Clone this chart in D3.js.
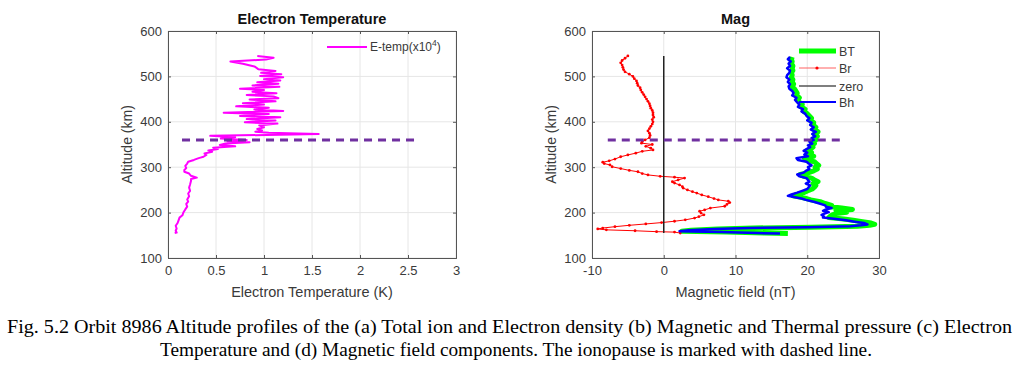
<!DOCTYPE html>
<html><head><meta charset="utf-8">
<script src="https://cdn.jsdelivr.net/npm/d3@7"></script>
<style>body{margin:0;background:#fff}svg{display:block}</style>
</head><body>
<svg id="c" width="1021" height="381"></svg>
<script>
// ---------- DATA ----------
const tempTicks = [0, 0.5, 1, 1.5, 2, 2.5, 3];
const altTicks = [100, 200, 300, 400, 500, 600];
const magTicks = [-10, 0, 10, 20, 30];
const ionopauseAlt = 360;
const ionoTempRange = [0.146, 2.59];
const ionoMagRange = [-7.8, 25];
const zeroAltRange = [155, 545];

const etempAlt = [545,541,537,533,528,522,516,512,508,505,501,498,494,491,487,484,480,477,473,470,466,463,459,456,452,449,445,441,438,434,431,427,424,420,417,413,410,406,403,399,396,392,388,384,381,378,376,373,369,366,363,360,357,355,352,349,346,343,340,337,334,330,327,323,320,316,312,308,303,298,294,290,286,281,277,274,270,262,255,248,242,236,229,224,219,213,207,200,194,189,183,177,171,165,160,156,155];
const etempVal = [0.93,1.10,1.02,0.65,0.78,0.90,0.94,1.12,0.97,1.18,0.96,1.20,1.00,1.17,0.93,1.15,0.88,1.16,0.75,1.00,0.88,1.13,0.82,1.10,1.15,0.85,1.12,0.78,1.00,0.71,1.05,0.90,1.20,0.58,1.05,0.75,1.17,0.82,1.12,0.80,1.14,0.95,1.00,0.93,0.98,0.91,1.05,1.57,0.44,0.70,0.55,0.82,0.62,0.85,0.60,0.54,0.70,0.47,0.52,0.42,0.46,0.38,0.40,0.37,0.32,0.27,0.21,0.20,0.18,0.19,0.17,0.17,0.22,0.24,0.30,0.24,0.24,0.23,0.22,0.23,0.21,0.22,0.20,0.21,0.19,0.20,0.18,0.16,0.15,0.12,0.11,0.10,0.08,0.09,0.08,0.09,0.07];

const brAlt = [545,540,535,530,525,520,515,510,505,500,495,490,485,480,475,470,465,460,455,450,445,440,435,430,425,420,415,410,405,400,395,390,385,380,375,370,365,360,356,353,350,346,342,338,335,331,327,323,318,314,311,308,305,301,297,293,290,286,283,280,278,276,272,268,265,261,257,254,250,246,243,239,235,231,228,225,222,218,214,210,206,203,199,195,191,188,184,181,178,175,172,169,166,164,162,160,158,157,155];
const brVal = [-5.0,-5.4,-5.8,-6.0,-5.8,-5.7,-5.6,-5.4,-4.8,-4.3,-4.1,-3.8,-3.7,-3.6,-3.3,-3.2,-3.0,-2.8,-2.6,-2.4,-2.2,-2.0,-1.9,-1.8,-1.6,-1.5,-1.5,-1.4,-1.6,-1.5,-1.6,-1.8,-2.0,-2.2,-2.0,-1.9,-2.0,-2.6,-3.0,-3.1,-1.6,-2.5,-1.8,-1.5,-3.0,-3.9,-5.0,-6.0,-6.8,-7.6,-8.5,-8.3,-7.5,-7.2,-6.0,-4.8,-3.6,-3.0,-2.2,-0.5,1.5,2.9,2.0,1.2,1.5,2.2,2.6,2.7,3.3,4.0,4.6,5.3,6.2,7.0,7.6,9.0,9.2,8.8,8.5,6.5,5.7,5.0,5.2,5.6,4.9,4.3,3.0,1.5,-0.3,-2.5,-4.8,-6.8,-8.5,-9.2,-8.0,-4.0,-1.0,1.5,2.3];

const magAlt = [543,538,533,528,523,518,513,508,503,498,493,488,483,478,473,468,463,458,453,448,443,438,433,428,423,418,413,408,403,398,393,388,383,378,373,368,364,360,356,352,348,344,340,336,332,328,324,320,316,312,308,304,300,296,292,288,284,280,276,272,268,264,260,256,252,248,244,240,237,234,231,228,224,220,216,213,210,207,204,201,198,195,192,189,186,183,180,177,174,172,170,168,166,164,161,159,157,155,154];
const bhVal = [17.6,17.3,17.7,17.4,17.6,17.2,17.6,17.5,17.2,17.1,17.5,17.3,17.6,17.4,17.5,17.9,18.1,17.9,18.5,18.3,18.6,18.9,18.7,19.4,19.2,19.7,19.9,20.3,20.0,20.6,20.4,20.9,20.5,21.2,20.7,21.1,20.6,20.9,20.3,20.7,20.1,20.4,19.9,19.5,20.0,19.6,20.1,18.5,18.7,19.9,20.2,20.6,20.1,20.3,19.8,19.5,18.6,18.9,19.9,20.1,20.3,19.8,20.4,20.2,20.0,19.3,18.6,17.8,17.3,18.3,19.2,19.8,20.9,21.7,22.5,22.6,23.4,22.6,22.2,23.0,22.4,22.0,22.3,22.2,24.0,25.4,26.6,27.9,28.4,27.5,26.0,20.0,12.0,7.0,3.5,2.2,8.0,13.0,16.2];
const btVal = [17.9,17.8,17.9,17.8,18.0,17.9,18.0,17.8,17.9,17.8,18.0,17.9,18.1,17.9,18.2,18.4,18.6,18.5,18.9,18.7,18.9,19.3,19.1,19.7,19.5,20.0,20.3,20.6,20.4,20.9,20.8,21.2,20.9,21.5,21.0,21.4,21.0,21.2,20.7,21.0,20.5,20.8,20.4,20.0,20.6,20.3,20.9,19.6,19.8,21.0,21.3,21.6,21.1,21.4,20.9,20.2,19.0,19.5,20.6,21.0,21.5,20.8,21.2,21.0,20.7,20.1,19.5,18.6,18.0,19.0,19.9,20.5,21.8,22.5,23.4,23.3,24.8,26.3,24.0,25.5,24.0,23.5,23.2,23.0,25.1,26.4,27.7,28.9,29.4,28.7,27.0,20.5,12.5,7.5,3.8,2.5,8.8,14.0,17.3];

const captionLines = [
  "Fig. 5.2 Orbit 8986 Altitude profiles of the (a) Total ion and Electron density (b) Magnetic and Thermal pressure (c) Electron",
  "Temperature and (d) Magnetic field components. The ionopause is marked with dashed line."
];

// ---------- DRAW ----------
const svg = d3.select("#c");
svg.append("rect").attr("width",1021).attr("height",381).attr("fill","#fff");
const FONT = "'Liberation Sans', Arial, sans-serif";
const axisCol = "#555", textCol = "#3a3a3a", gridCol = "#e6e6e6";

const yTop = 31, yBot = 258;
const yScaleL = d3.scaleLinear().domain([100,600]).range([yBot,yTop]);
const xTemp = d3.scaleLinear().domain([0,3]).range([168,456]);
const xMag = d3.scaleLinear().domain([-10,30]).range([592,879]);

function panel(x, xticks, title, xlabel, yLabelX) {
  const g = svg.append("g");
  const [x0,x1] = x.range();
  g.selectAll(".gx").data(xticks).join("line")
    .attr("x1",d=>x(d)).attr("x2",d=>x(d)).attr("y1",yTop).attr("y2",yBot)
    .attr("stroke",gridCol).attr("stroke-width",1);
  g.selectAll(".gy").data(altTicks).join("line")
    .attr("x1",x0).attr("x2",x1).attr("y1",d=>yScaleL(d)).attr("y2",d=>yScaleL(d))
    .attr("stroke",gridCol).attr("stroke-width",1);
  const ax = d3.axisBottom(x).tickValues(xticks).tickSize(-3).tickPadding(8).tickFormat(d=>String(d));
  const ay = d3.axisLeft(yScaleL).tickValues(altTicks).tickSize(-3).tickPadding(6);
  const gx = g.append("g").attr("transform",`translate(0,${yBot})`).call(ax);
  const gy = g.append("g").attr("transform",`translate(${x0},0)`).call(ay);
  const gx2 = g.append("g").attr("transform",`translate(0,${yTop})`).call(d3.axisTop(x).tickValues(xticks).tickSize(-3).tickFormat(""));
  const gy2 = g.append("g").attr("transform",`translate(${x1},0)`).call(d3.axisRight(yScaleL).tickValues(altTicks).tickSize(-3).tickFormat(""));
  [gx,gy,gx2,gy2].forEach(a=>{
    a.select(".domain").attr("stroke",axisCol);
    a.selectAll(".tick line").attr("stroke",axisCol);
    a.selectAll("text").attr("fill",textCol).style("font-family",FONT).style("font-size","13px");
  });
  g.append("text").attr("x",(x0+x1)/2).attr("y",24).attr("text-anchor","middle")
    .style("font-family",FONT).style("font-size","14.5px").style("font-weight","bold").attr("fill","#111").text(title);
  g.append("text").attr("x",(x0+x1)/2).attr("y",297).attr("text-anchor","middle")
    .style("font-family",FONT).style("font-size","14.5px").attr("fill",textCol).text(xlabel);
  g.append("text").attr("transform",`translate(${yLabelX},${(yTop+yBot)/2}) rotate(-90)`).attr("text-anchor","middle")
    .style("font-family",FONT).style("font-size","14px").attr("fill",textCol).text("Altitude (km)");
  return g;
}

// Left panel
const gL = panel(xTemp, tempTicks, "Electron Temperature", "Electron Temperature (K)", 132);
const lineT = d3.line().x(d=>xTemp(d[1])).y(d=>yScaleL(d[0]));
gL.append("path").datum(d3.zip(etempAlt, etempVal)).attr("d",lineT)
  .attr("fill","none").attr("stroke","#ff00ff").attr("stroke-width",2).attr("stroke-linejoin","round");
gL.append("line").attr("x1",xTemp(ionoTempRange[0])).attr("x2",xTemp(ionoTempRange[1]))
  .attr("y1",yScaleL(ionopauseAlt)).attr("y2",yScaleL(ionopauseAlt))
  .attr("stroke","#7030a0").attr("stroke-width",3).attr("stroke-dasharray","8,6");
gL.append("line").attr("x1",327).attr("x2",367).attr("y1",47).attr("y2",47).attr("stroke","#ff00ff").attr("stroke-width",2);
const lt = gL.append("text").attr("x",370).attr("y",51).style("font-family",FONT).style("font-size","12px").attr("fill",textCol);
lt.append("tspan").text("E-temp(x10");
lt.append("tspan").attr("dy",-5).style("font-size","8.5px").text("4");
lt.append("tspan").attr("dy",5).text(")");

// Right panel
const gR = panel(xMag, magTicks, "Mag", "Magnetic field (nT)", 556);
const lineM = d3.line().x(d=>xMag(d[1])).y(d=>yScaleL(d[0]));
gR.append("path").datum(d3.zip(magAlt, btVal)).attr("d",lineM)
  .attr("fill","none").attr("stroke","#00ff00").attr("stroke-width",5).attr("stroke-linejoin","round");
gR.append("path").datum(d3.zip(brAlt, brVal)).attr("d",lineM)
  .attr("fill","none").attr("stroke","#ff0000").attr("stroke-width",1);
gR.selectAll(".brdot").data(d3.zip(brAlt, brVal)).join("circle")
  .attr("cx",d=>xMag(d[1])).attr("cy",d=>yScaleL(d[0])).attr("r",1.4).attr("fill","#ff0000");
gR.append("line").attr("x1",xMag(0)).attr("x2",xMag(0))
  .attr("y1",yScaleL(zeroAltRange[0])).attr("y2",yScaleL(zeroAltRange[1]))
  .attr("stroke","#222").attr("stroke-width",1.5);
gR.append("path").datum(d3.zip(magAlt, bhVal)).attr("d",lineM)
  .attr("fill","none").attr("stroke","#0000ff").attr("stroke-width",2.5).attr("stroke-linejoin","round");
gR.append("line").attr("x1",xMag(ionoMagRange[0])).attr("x2",xMag(ionoMagRange[1]))
  .attr("y1",yScaleL(ionopauseAlt)).attr("y2",yScaleL(ionopauseAlt))
  .attr("stroke","#7030a0").attr("stroke-width",3).attr("stroke-dasharray","8,6");
const legR = [
  {name:"BT", color:"#00ff00", w:5, y:51},
  {name:"Br", color:"#ff6060", w:1, y:68, dot:true},
  {name:"zero", color:"#555", w:1.5, y:86},
  {name:"Bh", color:"#0000ff", w:2, y:102}
];
legR.forEach(d=>{
  gR.append("line").attr("x1",799).attr("x2",836).attr("y1",d.y).attr("y2",d.y).attr("stroke",d.color).attr("stroke-width",d.w);
  if (d.dot) gR.append("circle").attr("cx",817).attr("cy",d.y).attr("r",1.6).attr("fill","#ff0000");
  gR.append("text").attr("x",839).attr("y",d.y+4.5).style("font-family",FONT).style("font-size","12.5px").attr("fill",textCol).text(d.name);
});

// Caption
const cap = [{t:captionLines[0], x0:7, x1:1012, y:333},{t:captionLines[1], x0:160, x1:872, y:356}];
cap.forEach(c=>{
  svg.append("text").attr("x",c.x0).attr("y",c.y).attr("textLength",c.x1-c.x0).attr("lengthAdjust","spacingAndGlyphs")
    .style("font-family","'Liberation Serif','Times New Roman',serif").style("font-size","19.5px").attr("fill","#000").text(c.t);
});
</script>
</body></html>
